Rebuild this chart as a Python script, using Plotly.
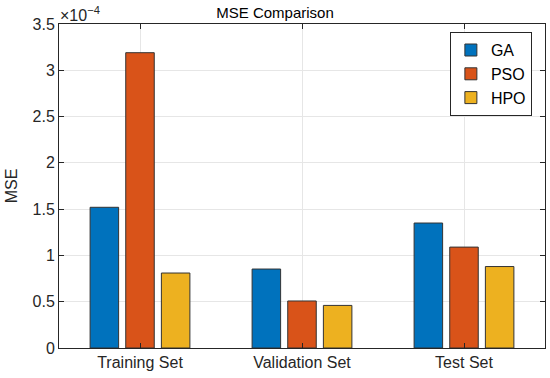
import plotly.graph_objects as go

categories = ["Training Set", "Validation Set", "Test Set"]
series_names = ["GA", "PSO", "HPO"]
ga_values = [1.52e-4, 0.853e-4, 1.35e-4]
pso_values = [3.19e-4, 0.508e-4, 1.09e-4]
hpo_values = [0.81e-4, 0.46e-4, 0.88e-4]
colors = ["#0072BD", "#D95319", "#EDB120"]
y_ticks = [0, 0.5e-4, 1e-4, 1.5e-4, 2e-4, 2.5e-4, 3e-4, 3.5e-4]
y_tick_labels = ["0", "0.5", "1", "1.5", "2", "2.5", "3", "3.5"]

font = "Liberation Sans, Arial, sans-serif"
fig = go.Figure()
for name, vals, col in zip(series_names, [ga_values, pso_values, hpo_values], colors):
    fig.add_trace(go.Bar(x=categories, y=vals, name=name,
                         marker=dict(color=col, line=dict(color="#333333", width=1))))

axis_common = dict(showline=True, linecolor="#262626", linewidth=1, mirror="ticks",
                   ticks="inside", ticklen=5, tickcolor="#262626",
                   tickfont=dict(family=font, size=16, color="#262626"),
                   showgrid=True, gridcolor="#e6e6e6", zeroline=False)
fig.update_layout(
    width=550, height=378,
    margin=dict(l=59, r=5, t=24, b=30),
    paper_bgcolor="white", plot_bgcolor="white",
    barmode="group", bargap=0.34, bargroupgap=0.2,
    title=dict(text="MSE Comparison", x=0.5, xref="container", xanchor="center",
               y=0.965, yref="container", yanchor="middle",
               font=dict(family=font, size=15, color="#000")),
    xaxis=dict(**axis_common),
    yaxis=dict(**axis_common, range=[0, 3.5e-4], tickvals=y_ticks, ticktext=y_tick_labels,
               title=dict(text="MSE", font=dict(family=font, size=16, color="#262626"), standoff=10)),
    legend=dict(x=0.973, y=0.975, xanchor="right", yanchor="top", bgcolor="white",
                bordercolor="#262626", borderwidth=1,
                font=dict(family=font, size=16, color="#000"), itemwidth=30),
    annotations=[dict(text="×10<sup>−4</sup>", xref="paper", yref="paper", x=0, y=1.0,
                      xanchor="left", yanchor="bottom", showarrow=False, xshift=-1, yshift=-2,
                      font=dict(family=font, size=16, color="#262626"))],
)
fig.write_html("out.html", config={"displayModeBar": False},
               post_script="document.body.style.margin='0';")
